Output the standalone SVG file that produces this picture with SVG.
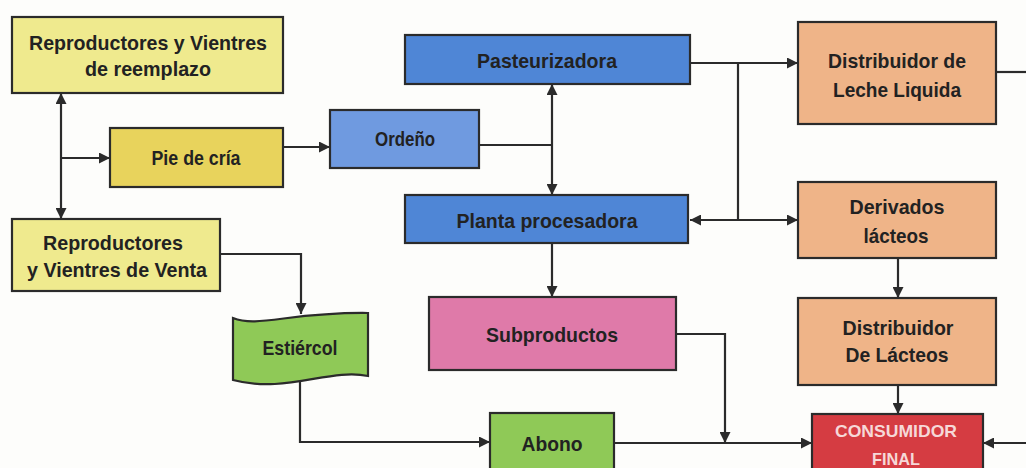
<svg xmlns="http://www.w3.org/2000/svg" width="1026" height="468" viewBox="0 0 1026 468">
  <defs>
    <marker id="arrow" viewBox="0 0 10 10" refX="10" refY="5" markerWidth="11" markerHeight="11" markerUnits="userSpaceOnUse" orient="auto-start-reverse">
      <path d="M0,0 L10,5 L0,10 Z" fill="#2b2b2b"/>
    </marker>
    <style>
      .box { stroke: #2b2b2b; stroke-width: 2.2; }
      .yl { fill: #efea8e; }
      .yd { fill: #e8d35c; }
      .bl { fill: #4f86d6; }
      .bll { fill: #6f9ae0; }
      .pe { fill: #efb488; }
      .pk { fill: #df7aa9; }
      .gr { fill: #8fc957; }
      .rd { fill: #d53c42; }
      .lbl { font-family: "Liberation Sans", Arial, sans-serif; font-weight: bold; font-size: 21px; fill: #222; text-anchor: middle; }
      .lblw { font-family: "Liberation Sans", Arial, sans-serif; font-weight: bold; font-size: 17px; fill: #f6d8d8; text-anchor: middle; }
      .edge { fill: none; stroke: #2b2b2b; stroke-width: 2.2; }
    </style>
  </defs>

  <rect width="1026" height="468" fill="#fdfdfb"/>

  <!-- connectors -->
  <g id="connectors">
    <!-- breeding stock branch -->
    <path class="edge" d="M61,158 L61,93" marker-end="url(#arrow)"/>
    <path class="edge" d="M61,158 L61,219" marker-end="url(#arrow)"/>
    <path class="edge" d="M61,158 L110,158" marker-end="url(#arrow)"/>
    <path class="edge" d="M283,147 L330,147" marker-end="url(#arrow)"/>
    <!-- milking to pasteurizer / plant -->
    <path class="edge" d="M479,145 L552,145"/>
    <path class="edge" d="M552,145 L552,84" marker-end="url(#arrow)"/>
    <path class="edge" d="M552,145 L552,195" marker-end="url(#arrow)"/>
    <!-- pasteurizer outputs -->
    <path class="edge" d="M690,63 L798,63" marker-end="url(#arrow)"/>
    <path class="edge" d="M738,63 L738,220"/>
    <path class="edge" d="M738,220 L690,220" marker-end="url(#arrow)"/>
    <path class="edge" d="M738,220 L798,220" marker-end="url(#arrow)"/>
    <path class="edge" d="M996,72 L1026,72"/>
    <!-- dairy chain -->
    <path class="edge" d="M898,258 L898,298" marker-end="url(#arrow)"/>
    <path class="edge" d="M898,385 L898,414" marker-end="url(#arrow)"/>
    <path class="edge" d="M1026,443 L983,443" marker-end="url(#arrow)"/>
    <!-- plant to by-products -->
    <path class="edge" d="M552,243 L552,297" marker-end="url(#arrow)"/>
    <path class="edge" d="M676,334 L725,334 L725,443" marker-end="url(#arrow)"/>
    <!-- manure and compost -->
    <path class="edge" d="M220,254 L301,254 L301,314" marker-end="url(#arrow)"/>
    <path class="edge" d="M300,380 L300,442 L490,442" marker-end="url(#arrow)"/>
    <path class="edge" d="M614,443 L812,443" marker-end="url(#arrow)"/>
  </g>

  <g id="reemplazo">
    <rect class="box yl" x="12" y="17" width="271" height="76"/>
    <text class="lbl" x="148" y="50" textLength="238" lengthAdjust="spacingAndGlyphs">Reproductores y Vientres</text>
    <text class="lbl" x="148" y="76" textLength="126" lengthAdjust="spacingAndGlyphs">de reemplazo</text>
  </g>

  <g id="pie-de-cria">
    <rect class="box yd" x="110" y="128" width="173" height="59"/>
    <text class="lbl" x="196" y="165" font-size="20" textLength="89" lengthAdjust="spacingAndGlyphs">Pie de cría</text>
  </g>

  <g id="venta">
    <rect class="box yl" x="12" y="219" width="208" height="72"/>
    <text class="lbl" x="113" y="250" textLength="140" lengthAdjust="spacingAndGlyphs">Reproductores</text>
    <text class="lbl" x="117" y="277" textLength="180" lengthAdjust="spacingAndGlyphs">y Vientres de Venta</text>
  </g>

  <g id="ordeno">
    <rect class="box bll" x="330" y="110" width="149" height="58"/>
    <text class="lbl" x="405" y="146" font-size="20" textLength="60" lengthAdjust="spacingAndGlyphs">Ordeño</text>
  </g>

  <g id="pasteurizadora">
    <rect class="box bl" x="405" y="35" width="285" height="49"/>
    <text class="lbl" x="547" y="68" textLength="140" lengthAdjust="spacingAndGlyphs">Pasteurizadora</text>
  </g>

  <g id="planta">
    <rect class="box bl" x="405" y="195" width="283" height="48"/>
    <text class="lbl" x="547" y="228" textLength="181" lengthAdjust="spacingAndGlyphs">Planta procesadora</text>
  </g>

  <g id="distribuidor-leche">
    <rect class="box pe" x="798" y="22" width="198" height="102"/>
    <text class="lbl" x="897" y="68" textLength="138" lengthAdjust="spacingAndGlyphs">Distribuidor de</text>
    <text class="lbl" x="897" y="97" textLength="128" lengthAdjust="spacingAndGlyphs">Leche Liquida</text>
  </g>

  <g id="derivados">
    <rect class="box pe" x="798" y="182" width="198" height="76"/>
    <text class="lbl" x="897" y="214" textLength="95" lengthAdjust="spacingAndGlyphs">Derivados</text>
    <text class="lbl" x="896" y="243" textLength="65" lengthAdjust="spacingAndGlyphs">lácteos</text>
  </g>

  <g id="distribuidor-lacteos">
    <rect class="box pe" x="798" y="298" width="198" height="87"/>
    <text class="lbl" x="898" y="335" textLength="111" lengthAdjust="spacingAndGlyphs">Distribuidor</text>
    <text class="lbl" x="897" y="362" textLength="103" lengthAdjust="spacingAndGlyphs">De Lácteos</text>
  </g>

  <g id="consumidor">
    <rect class="box rd" x="812" y="414" width="171" height="60"/>
    <text class="lblw" x="896" y="437" textLength="122" lengthAdjust="spacingAndGlyphs">CONSUMIDOR</text>
    <text class="lblw" x="896" y="465" textLength="48" lengthAdjust="spacingAndGlyphs">FINAL</text>
  </g>

  <g id="subproductos">
    <rect class="box pk" x="429" y="297" width="247" height="73"/>
    <text class="lbl" x="552" y="342" textLength="132" lengthAdjust="spacingAndGlyphs">Subproductos</text>
  </g>

  <g id="estiercol">
    <path class="box gr" d="M233,318 C258,328 290,312 368,313 L368,376 C330,368 285,394 233,380 Z"/>
    <text class="lbl" x="300" y="355" font-size="20" textLength="75" lengthAdjust="spacingAndGlyphs">Estiércol</text>
  </g>

  <g id="abono">
    <rect class="box gr" x="490" y="413" width="124" height="62"/>
    <text class="lbl" x="552" y="451" textLength="61" lengthAdjust="spacingAndGlyphs">Abono</text>
  </g>
</svg>
